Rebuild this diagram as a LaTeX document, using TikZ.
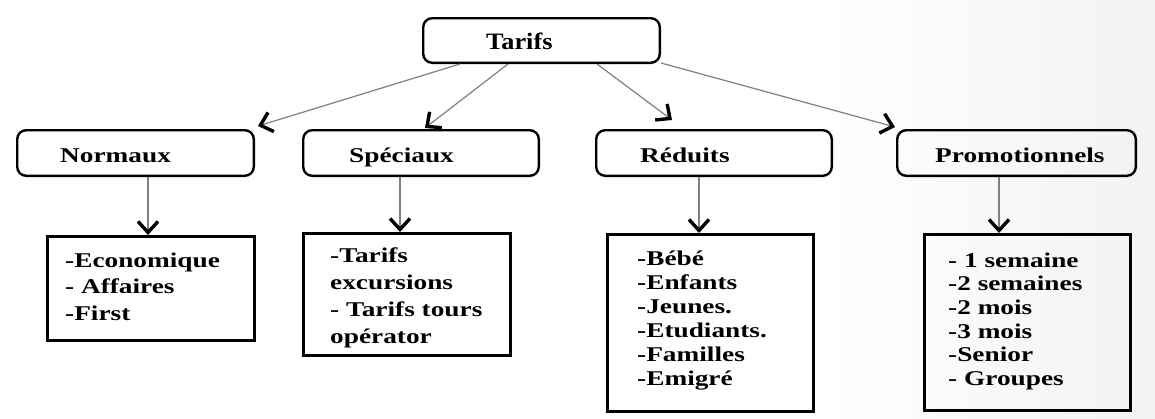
\documentclass[tikz,border=0pt]{standalone}
\usepackage{fontspec}
\setmainfont{Liberation Serif}[FakeStretch=1.3]
\newfontfamily\titlefont{Liberation Serif}[FakeStretch=1.12]
\usetikzlibrary{arrows.meta}

\begin{document}
\begin{tikzpicture}[x=1pt,y=-1pt,
  catbox/.style={draw=black, line width=2.4pt, rounded corners=9pt,
    minimum width=#1, minimum height=45.6pt, inner sep=0pt},
  listbox/.style={draw=black, line width=3pt, inner sep=0pt},
  headtxt/.style={anchor=base west, inner sep=0pt,
    font={\fontsize{21}{25}\selectfont\bfseries}},
  % multi-line text: the base anchor sits on the last line
  listtxt/.style={anchor=base west, inner sep=0pt, align=left,
    font={\fontsize{21}{#1}\selectfont\bfseries}},
  link/.style={draw=black!50, line width=1.2pt,
    -{Straight Barb[length=11pt, width=20pt, line width=3.4pt, color=black]}}
]
% page and soft shadow on the right
\useasboundingbox (0,0) rectangle (1155,418);
\fill[white] (0,0) rectangle (1155,418);
\shade[left color=white, right color=black!5] (820,0) rectangle (1155,418);

% root
\node[catbox=236.6pt, minimum height=44.6pt] (tarifs) at (541.5,40.5) {};
\node[anchor=base west, inner sep=0pt,
  font={\fontsize{23.5}{27}\selectfont\titlefont\bfseries}] (ttarifs) at (486,49) {Tarifs};

% categories
\node[catbox=236.6pt] (normaux) at (135.5,153) {};
\node[catbox=235.6pt] (speciaux) at (421,153) {};
\node[catbox=235.6pt] (reduits) at (714,153) {};
\node[catbox=238.6pt] (promo) at (1016.5,153) {};
\node[headtxt] (tnormaux) at (60,162) {Normaux};
\node[headtxt] (tspeciaux) at (349,162) {Spéciaux};
\node[headtxt] (treduits) at (640,162) {Réduits};
\node[headtxt] (tpromo) at (935,162) {Promotionnels};

% detail lists
\node[listbox, minimum width=207pt, minimum height=104pt] (lnorm) at (151,288.5) {};
\node[listbox, minimum width=207pt, minimum height=122pt] (lspec) at (407,294.5) {};
\node[listbox, minimum width=206pt, minimum height=177pt] (lred) at (710.5,323) {};
\node[listbox, minimum width=206pt, minimum height=176pt] (lpromo) at (1027.5,322.5) {};

\node[listtxt=26.5] (tlnorm) at (65,320) {-Economique\\- Affaires\\-First};
\node[listtxt=27] (tlspec) at (330,343) {-Tarifs\\excursions\\- Tarifs tours\\opérator};
\node[listtxt=24] (tlred) at (637,385) {-Bébé\\-Enfants\\-Jeunes.\\-Etudiants.\\-Familles\\-Emigré};
\node[listtxt=23.7] (tlpromo) at (948,385.5) {- 1 semaine\\-2 semaines\\-2 mois\\-3 mois\\-Senior\\- Groupes};

% root to categories (shifts are in page directions: positive yshift is upwards)
\draw[link] ([xshift=38pt]tarifs.south west) -- ([xshift=3pt,yshift=3pt]normaux.north east);
\draw[link] ([xshift=86pt]tarifs.south west) -- ([xshift=123pt,yshift=1pt]speciaux.north west);
\draw[link] ([xshift=175pt]tarifs.south west) -- ([xshift=77pt,yshift=9pt]reduits.north west);
\draw[link] ([yshift=1pt]tarifs.south east) -- ([xshift=-1pt,yshift=2pt]promo.north west);

% categories to lists
\draw[link] ([xshift=132pt]normaux.south west) -- ([xshift=102pt]lnorm.north west);
\draw[link] ([xshift=98pt]speciaux.south west) -- ([xshift=98pt]lspec.north west);
\draw[link] ([xshift=104pt]reduits.south west) -- ([xshift=93pt]lred.north west);
\draw[link] ([xshift=103pt]promo.south west) -- ([xshift=76pt]lpromo.north west);
\end{tikzpicture}
\end{document}
